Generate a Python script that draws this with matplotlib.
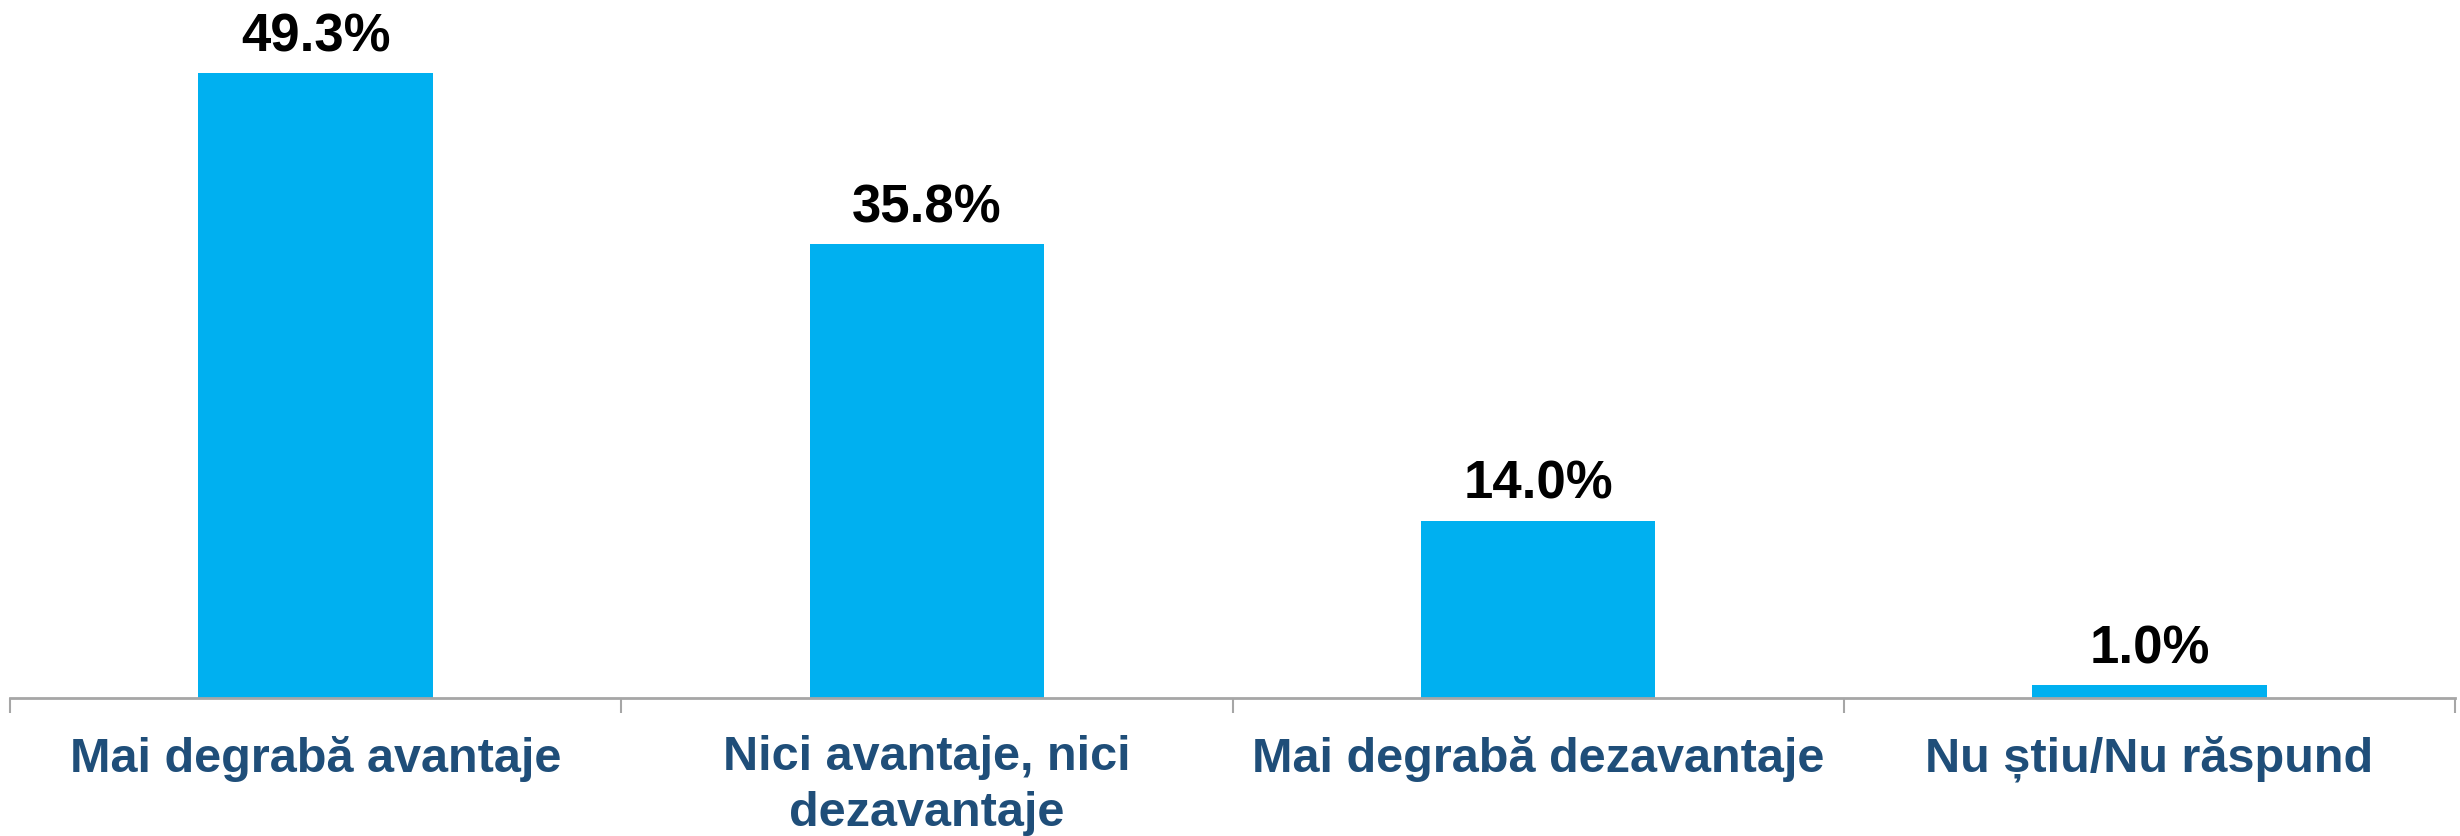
import numpy as np
import matplotlib
matplotlib.use("Agg")
import matplotlib.pyplot as plt

categories = ["Mai degrabă avantaje", "Nici avantaje, nici\ndezavantaje",
              "Mai degrabă dezavantaje", "Nu știu/Nu răspund"]
values = [49.3, 35.8, 14.0, 1.0]
value_labels = ["49.3%", "35.8%", "14.0%", "1.0%"]

plt.rcParams['font.family'] = ['Liberation Sans', 'DejaVu Sans']

fig = plt.figure(figsize=(24.6, 8.36), dpi=100)
ax = fig.add_axes([10 / 2460, 138 / 836, 2445 / 2460, 698 / 836])

x = np.arange(len(values))
ax.bar(x, values, width=0.384, color="#00B0F0", zorder=2)

# value labels above bars
for xi, v, lab in zip(x, values, value_labels):
    ax.annotate(lab, (xi, v), xytext=(0, 16), textcoords="offset points",
                ha="center", va="baseline", fontsize=38, fontweight="bold",
                color="black")

ax.set_xlim(-0.5, len(values) - 0.5)
ax.set_ylim(0, 55.1)

for s in ["top", "right", "left"]:
    ax.spines[s].set_visible(False)
ax.spines["bottom"].set_color("#A6A6A6")
ax.spines["bottom"].set_linewidth(2)
ax.set_yticks([])

ax.set_xticks(x)
ax.set_xticklabels(categories, fontsize=35, fontweight="bold", color="#1F4E79",
                   linespacing=1.3)
ax.tick_params(axis="x", which="major", length=0, pad=27)
# boundary ticks between categories
ax.set_xticks(np.arange(-0.5, len(values)), minor=True)
ax.tick_params(axis="x", which="minor", length=11, width=1.5, color="#A6A6A6")

fig.savefig("out.png", dpi=100)
